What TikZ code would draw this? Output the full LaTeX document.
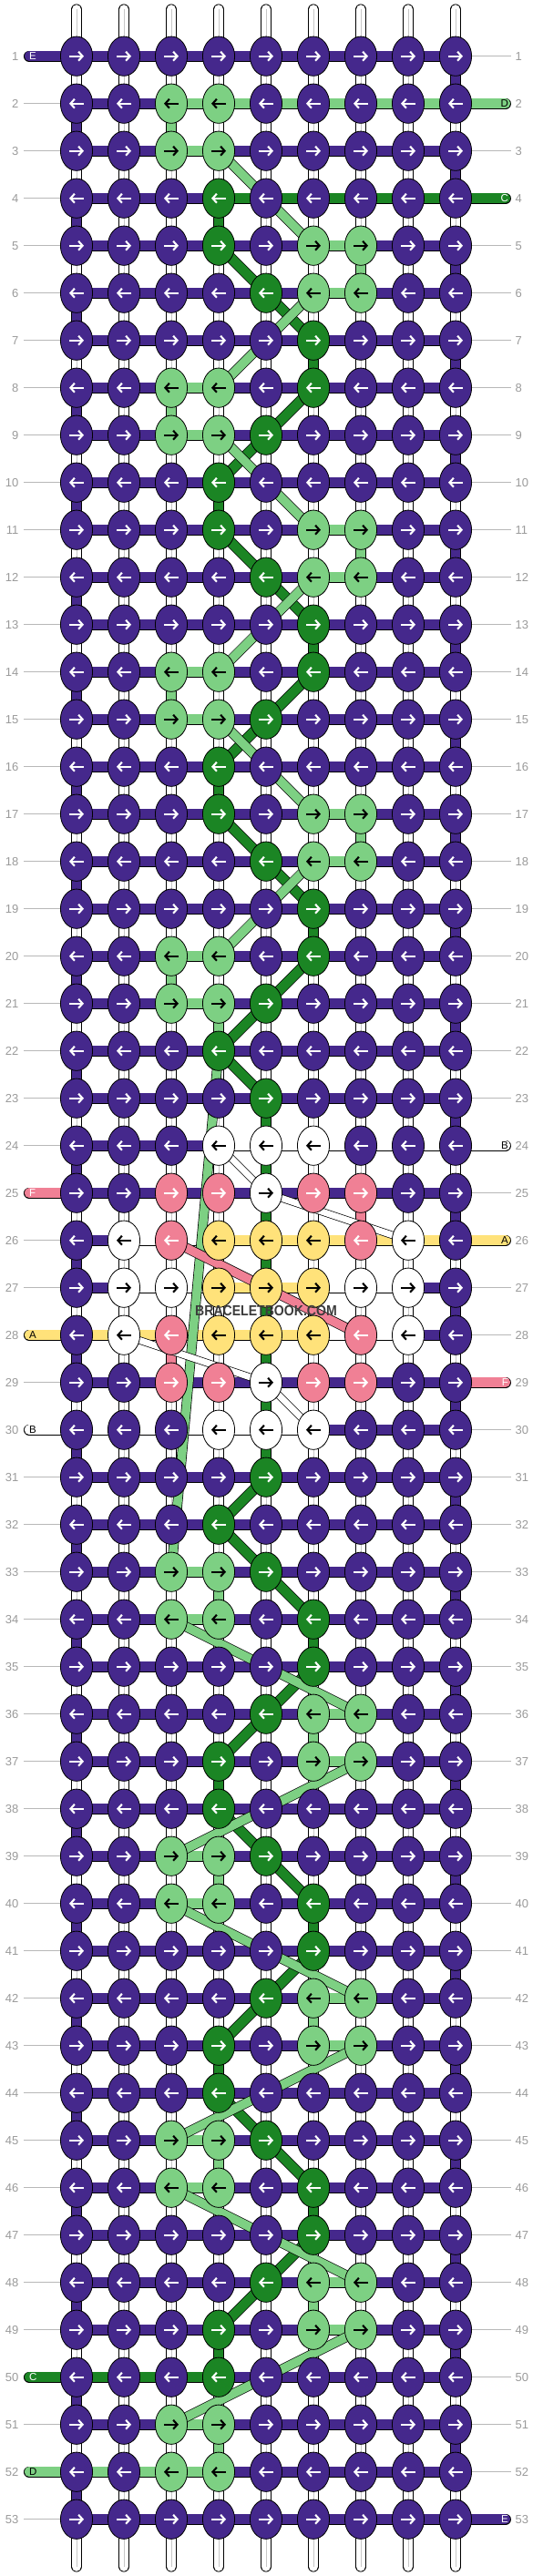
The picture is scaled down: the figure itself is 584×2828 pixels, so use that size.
\documentclass[tikz,border=0pt]{standalone}
\usepackage{fontspec}
\setmainfont{Liberation Sans}
\usetikzlibrary{shapes.geometric,arrows.meta}

\definecolor{cP}{HTML}{45288C}
\definecolor{cL}{HTML}{7DD083}
\definecolor{cG}{HTML}{1B8524}
\definecolor{cW}{HTML}{FFFFFF}
\definecolor{cK}{HTML}{F08095}
\definecolor{cY}{HTML}{FFE27A}
\colorlet{aP}{white}\colorlet{aG}{white}\colorlet{aK}{white}
\colorlet{aL}{black}\colorlet{aW}{black}\colorlet{aY}{black}
\definecolor{rowgray}{HTML}{9A9A9A}
\definecolor{markgray}{HTML}{3C3C3C}

\tikzset{
  knot/.style={ellipse, draw=black, line width=0.8pt, minimum width=35.2pt,
    minimum height=43.3pt, inner sep=0pt, fill=c#1},
  knotarrow/.style={line width=2.1pt, draw=a#1, -{Straight Barb[length=4.5pt,width=10pt]}},
  thread/.style={line width=0.8pt, draw=black, double=c#1, double distance=10.5pt},
  capthread/.style={thread=#1, line cap=round},
  diag/.style 2 args={line width=0.7pt, draw=black, double=c#1, double distance=#2},
  warp/.style={line width=0.8pt, draw=black, double=white, double distance=10.5pt, line cap=round},
  guide/.style={draw=rowgray!70, line width=0.8pt},
  rowlbl/.style={text=rowgray, font=\fontsize{13}{13}\selectfont, inner sep=0pt},
  caplbl/.style={font=\fontsize{11.5}{11.5}\selectfont, inner sep=0pt},
}

\begin{document}
\begin{tikzpicture}[x=1pt,y=-1pt]
    \useasboundingbox (0,0) rectangle (584,2828);

    % Knot places
    \foreach \r in {1,...,53}{
        \pgfmathsetmacro\yy{61.7+(\r-1)*52}
        \foreach \c in {1,...,9}
            \coordinate (p-\r-\c) at ({84+(\c-1)*52},\yy);
        \coordinate (p-\r-0) at (32,\yy);
        \coordinate (p-\r-10) at (554.9,\yy);
    }

    % Warp strings
    \foreach \c in {1,...,9}{
        \coordinate (w-top-\c) at ({84+(\c-1)*52},10.5);
        \coordinate (w-bot-\c) at ({84+(\c-1)*52},2817.5);
        \draw[warp] (w-top-\c) -- (w-bot-\c);
        \draw[black!22, line width=0.6pt] (w-top-\c) -- (w-bot-\c);
    }

    % Row numbers
    \foreach \r in {1,...,53}{
        \node[rowlbl, anchor=east] (ln-\r) at ([xshift=-63.4pt]p-\r-1) {\r};
        \node[rowlbl, anchor=west] (rn-\r) at ([xshift=65.5pt]p-\r-9) {\r};
        \draw[guide] ([xshift=5.6pt]ln-\r.east) -- ([xshift=-17.6pt]p-\r-1);
        \draw[guide] ([xshift=17.6pt]p-\r-9) -- ([xshift=-4.8pt]rn-\r.west);
    }

    % Horizontal threads
    \foreach \r in {1,...,53}
        \draw[thread=P] (p-\r-1) -- (p-\r-9);
    \foreach \r/\a/\b/\cl in {2/3/9/L, 3/3/4/L, 4/4/9/G, 5/6/7/L, 6/6/7/L, 8/3/4/L, 9/3/4/L,
        11/6/7/L, 12/6/7/L, 14/3/4/L, 15/3/4/L, 17/6/7/L, 18/6/7/L, 20/3/4/L, 21/3/4/L,
        24/4/9/W, 26/2/4/W, 26/4/9/Y, 27/2/4/W, 27/4/6/Y, 27/6/8/W, 28/1/6/Y, 28/6/8/W, 30/1/6/W,
        33/3/4/L, 34/3/4/L, 36/6/7/L, 37/6/7/L, 39/3/4/L, 40/3/4/L, 42/6/7/L, 43/6/7/L,
        45/3/4/L, 46/3/4/L, 48/6/7/L, 49/6/7/L, 50/1/4/G, 51/3/4/L, 52/1/4/L}
        \draw[thread=\cl] (p-\r-\a) -- (p-\r-\b);

    % Loose ends
    \foreach \r/\cl/\lt/\tc in {1/P/E/white, 25/K/F/white, 28/Y/A/black, 30/W/B/black, 50/G/C/white, 52/L/D/black}{
        \draw[capthread=\cl] (p-\r-0) -- (p-\r-1);
        \node[caplbl, text=\tc, anchor=west] (cl-\r) at ([xshift=-0.2pt]p-\r-0) {\lt};
    }
    \foreach \r/\cl/\lt/\tc in {2/L/D/black, 4/G/C/white, 24/W/B/black, 26/Y/A/black, 29/K/F/white, 53/P/E/white}{
        \draw[capthread=\cl] (p-\r-9) -- (p-\r-10);
        \node[caplbl, text=\tc, anchor=east] (cr-\r) at ([xshift=3.1pt]p-\r-10) {\lt};
    }

    % Vertical runs
    \foreach \r in {1,...,52}{
        \pgfmathtruncatemacro\nx{\r+1}
        \ifodd\r \def\vc{9}\else\def\vc{1}\fi
        \draw[thread=P] (p-\r-\vc) -- (p-\nx-\vc);
    }
    \foreach \r/\c/\cl in {2/3/L, 5/7/L, 8/3/L, 11/7/L, 14/3/L, 17/7/L, 20/3/L, 21/4/L,
        33/4/L, 36/6/L, 39/4/L, 42/6/L, 45/4/L, 48/6/L, 51/4/L,
        4/4/G, 7/6/G, 10/4/G, 13/6/G, 16/4/G, 19/6/G, 23/5/G, 24/5/G, 25/5/G, 26/5/G,
        27/5/G, 28/5/G, 29/5/G, 30/5/G, 34/6/G, 37/4/G, 40/6/G, 43/4/G, 46/6/G, 49/4/G,
        25/7/K, 28/3/K, 26/4/Y, 27/6/Y}{
        \pgfmathtruncatemacro\nx{\r+1}
        \draw[thread=\cl] (p-\r-\c) -- (p-\nx-\c);
    }

    % Carried threads
    \foreach \ra/\ca/\rb/\cb in {5/4/6/5, 6/5/7/6, 8/6/9/5, 9/5/10/4, 11/4/12/5, 12/5/13/6,
        14/6/15/5, 15/5/16/4, 17/4/18/5, 18/5/19/6, 20/6/21/5, 21/5/22/4, 22/4/23/5,
        31/5/32/4, 32/4/33/5, 33/5/34/6, 35/6/36/5, 36/5/37/4, 38/4/39/5, 39/5/40/6,
        41/6/42/5, 42/5/43/4, 44/4/45/5, 45/5/46/6, 47/6/48/5, 48/5/49/4}
        \draw[diag={G}{10.5pt}] (p-\ra-\ca) -- (p-\rb-\cb);
    \foreach \ra/\ca/\rb/\cb in {3/4/5/6, 6/6/8/4, 9/4/11/6, 12/6/14/4, 15/4/17/6, 18/6/20/4,
        22/4/33/3, 34/3/36/7, 37/7/39/3, 40/3/42/7, 43/7/45/3, 46/3/48/7, 49/7/51/3}
        \draw[diag={L}{9.5pt}] (p-\ra-\ca) -- (p-\rb-\cb);
    \draw[diag={K}{9.5pt}] (p-26-3) -- (p-28-7);
    \foreach \ra/\ca/\rb/\cb in {24/4/25/5, 25/5/26/8, 28/2/29/5, 29/5/30/6}
        \draw[diag={W}{7pt}] (p-\ra-\ca) -- (p-\rb-\cb);

    % Knots
    \foreach \row [count=\r] in {
        {P,P,P,P,P,P,P,P,P}, {P,P,L,L,P,P,P,P,P}, {P,P,L,L,P,P,P,P,P}, {P,P,P,G,P,P,P,P,P}, % 1-4
        {P,P,P,G,P,L,L,P,P}, {P,P,P,P,G,L,L,P,P}, {P,P,P,P,P,G,P,P,P}, {P,P,L,L,P,G,P,P,P}, % 5-8
        {P,P,L,L,G,P,P,P,P}, {P,P,P,G,P,P,P,P,P}, {P,P,P,G,P,L,L,P,P}, {P,P,P,P,G,L,L,P,P}, % 9-12
        {P,P,P,P,P,G,P,P,P}, {P,P,L,L,P,G,P,P,P}, {P,P,L,L,G,P,P,P,P}, {P,P,P,G,P,P,P,P,P}, % 13-16
        {P,P,P,G,P,L,L,P,P}, {P,P,P,P,G,L,L,P,P}, {P,P,P,P,P,G,P,P,P}, {P,P,L,L,P,G,P,P,P}, % 17-20
        {P,P,L,L,G,P,P,P,P}, {P,P,P,G,P,P,P,P,P}, {P,P,P,P,G,P,P,P,P}, {P,P,P,W,W,W,P,P,P}, % 21-24
        {P,P,K,K,W,K,K,P,P}, {P,W,K,Y,Y,Y,K,W,P}, {P,W,W,Y,Y,Y,W,W,P}, {P,W,K,Y,Y,Y,K,W,P}, % 25-28
        {P,P,K,K,W,K,K,P,P}, {P,P,P,W,W,W,P,P,P}, {P,P,P,P,G,P,P,P,P}, {P,P,P,G,P,P,P,P,P}, % 29-32
        {P,P,L,L,G,P,P,P,P}, {P,P,L,L,P,G,P,P,P}, {P,P,P,P,P,G,P,P,P}, {P,P,P,P,G,L,L,P,P}, % 33-36
        {P,P,P,G,P,L,L,P,P}, {P,P,P,G,P,P,P,P,P}, {P,P,L,L,G,P,P,P,P}, {P,P,L,L,P,G,P,P,P}, % 37-40
        {P,P,P,P,P,G,P,P,P}, {P,P,P,P,G,L,L,P,P}, {P,P,P,G,P,L,L,P,P}, {P,P,P,G,P,P,P,P,P}, % 41-44
        {P,P,L,L,G,P,P,P,P}, {P,P,L,L,P,G,P,P,P}, {P,P,P,P,P,G,P,P,P}, {P,P,P,P,G,L,L,P,P}, % 45-48
        {P,P,P,G,P,L,L,P,P}, {P,P,P,G,P,P,P,P,P}, {P,P,L,L,P,P,P,P,P}, {P,P,L,L,P,P,P,P,P}, % 49-52
        {P,P,P,P,P,P,P,P,P}}{
        \pgfmathtruncatemacro\dir{mod(\r,2)==1 ? 1 : -1}
        \foreach \col [count=\c] in \row{
            \node[knot=\col] (k-\r-\c) at (p-\r-\c) {};
            \draw[knotarrow=\col] ([xshift={-8*\dir}]k-\r-\c.center) -- ([xshift={8*\dir}]k-\r-\c.center);
        }
    }

    % Watermark
    \node[text=markgray, font=\fontsize{16}{16}\selectfont\bfseries, inner sep=0pt] (mark)
        at (292,1439) {\scalebox{0.88}[1]{BRACELETBOOK.COM}};
\end{tikzpicture}
\end{document}
